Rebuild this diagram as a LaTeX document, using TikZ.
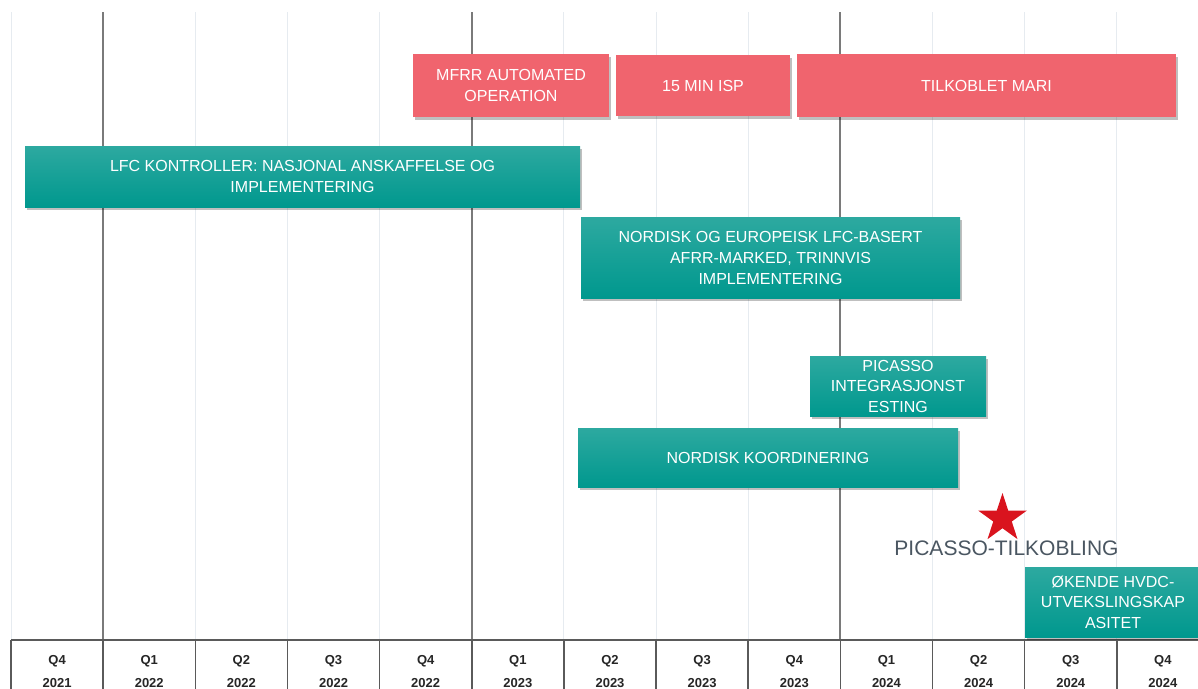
\documentclass[tikz,border=0pt]{standalone}
\usepackage{fontspec}
\setmainfont{Liberation Sans}
\usetikzlibrary{shapes.geometric,shadows}
\definecolor{barred}{HTML}{F0646E}
\definecolor{tealtop}{HTML}{2DA9A0}
\definecolor{tealbot}{HTML}{00988E}
\definecolor{yearline}{HTML}{7A7A7A}
\definecolor{gridline}{HTML}{E6EBF0}
\definecolor{tabline}{HTML}{5A5A5A}
\definecolor{labgray}{HTML}{4A5661}
\definecolor{starred}{HTML}{D9141E}
\tikzset{
  bar/.style={rectangle, inner sep=0pt, text=white, align=center,
    font=\fontsize{16}{21}\selectfont,
    drop shadow={shadow xshift=1.5pt, shadow yshift=-2.5pt, opacity=0.25, fill=black}},
  redbar/.style={bar, fill=barred},
  tealbar/.style={bar, top color=tealtop, bottom color=tealbot},
  axlab/.style={font=\bfseries\fontsize{13}{15}\selectfont, text=black!85, inner sep=0pt},
}
\begin{document}
\begin{tikzpicture}[x=1pt,y=-1pt]
\useasboundingbox (0,0) rectangle (1198,688);
\fill[white] (0,0) rectangle (1198,688);
% light grid lines
\foreach \i in {0,2,3,4,6,7,8,10,11,12,13}
  \draw[gridline, line width=1pt] ({11+92.15*\i},12) -- ({11+92.15*\i},640);
% year lines
\foreach \i in {1,5,9}
  \draw[yearline, line width=1.8pt] ({11+92.15*\i},12) -- ({11+92.15*\i},640);
% table
\draw[tabline, line width=1.5pt] (11,640) -- (1198,640);
\foreach \i in {0,...,12}
  \draw[tabline, line width=1.5pt] ({11+92.15*\i},640) -- ({11+92.15*\i},690);
\foreach \q/\yr [count=\i from 0] in {Q4/2021,Q1/2022,Q2/2022,Q3/2022,Q4/2022,Q1/2023,Q2/2023,Q3/2023,Q4/2023,Q1/2024,Q2/2024,Q3/2024,Q4/2024}{
  \node[axlab, anchor=base] (q\i) at ({11+92.15*\i+46.1},664.5) {\q};
  \node[axlab, anchor=base] (y\i) at ({11+92.15*\i+46.1},687.3) {\yr};
}
% red bars
\node[redbar, minimum width=196pt, minimum height=63pt] (mfrr) at (511,85.5) {MFRR AUTOMATED\\OPERATION};
\node[redbar, minimum width=174pt, minimum height=61pt] (isp) at (703,85.5) {15 MIN ISP};
\node[redbar, minimum width=379pt, minimum height=63pt] (mari) at (986.5,85.5) {TILKOBLET MARI};
% teal bars
\node[tealbar, minimum width=555pt, minimum height=61pt] (lfc) at (302.5,176.5) {LFC KONTROLLER: NASJONAL ANSKAFFELSE OG\\IMPLEMENTERING};
\node[tealbar, minimum width=379pt, minimum height=81pt] (nordeur) at (770.5,257.5) {NORDISK OG EUROPEISK LFC-BASERT\\AFRR-MARKED, TRINNVIS\\IMPLEMENTERING};
\node[tealbar, minimum width=176pt, minimum height=60pt, font=\fontsize{16}{20.5}\selectfont] (pictest) at (898,386) {PICASSO\\INTEGRASJONST\\ESTING};
\node[tealbar, minimum width=380pt, minimum height=59pt] (nordkoord) at (768,457.5) {NORDISK KOORDINERING};
\node[tealbar, minimum width=176pt, minimum height=70pt, font=\fontsize{16}{20.5}\selectfont] (hvdc) at (1113,602) {ØKENDE HVDC-\\UTVEKSLINGSKAP\\ASITET};
% star milestone
\node[star, star points=5, star point ratio=2.618, fill=starred, inner sep=0pt, minimum size=51pt] (star) at (1002.5,518.5) {};
\node[text=labgray, font=\fontsize{21}{24}\selectfont, inner sep=0pt] (piclab) at (1006.5,548) {PICASSO-TILKOBLING};
\end{tikzpicture}
\end{document}
